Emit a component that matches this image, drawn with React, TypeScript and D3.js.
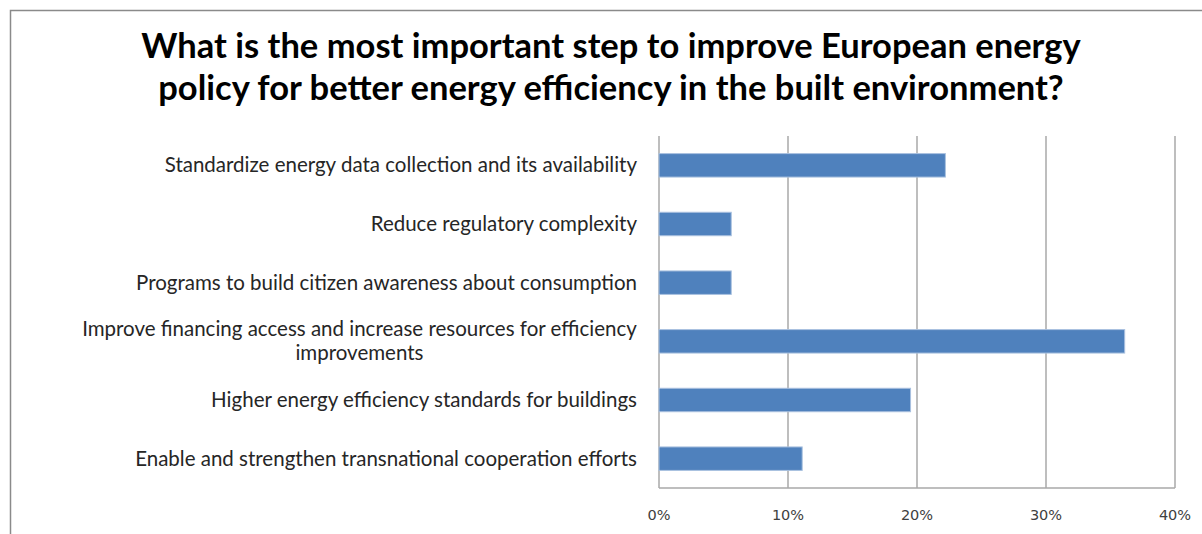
import React from "react";
import * as d3 from "d3";

const titleLines: string[] = [
  "What is the most important step to improve European energy",
  "policy for better energy efficiency in the built environment?",
];

const categories: string[][] = [
  ["Standardize energy data collection and its availability"],
  ["Reduce regulatory complexity"],
  ["Programs to build citizen awareness about consumption"],
  ["Improve financing access and increase resources for efficiency", "improvements"],
  ["Higher energy efficiency standards for buildings"],
  ["Enable and strengthen transnational cooperation efforts"],
];

const values: number[] = [0.222, 0.056, 0.056, 0.361, 0.195, 0.111];

const ticks: number[] = [0, 0.1, 0.2, 0.3, 0.4];

const W = 1202;
const H = 534;
const margin = { left: 659, right: 1175, top: 136, bottom: 488 };

let ctx: CanvasRenderingContext2D | null = null;
function measure(text: string, font: string): number {
  if (!ctx && typeof document !== "undefined") {
    ctx = document.createElement("canvas").getContext("2d");
  }
  if (!ctx) return text.length * 9;
  ctx.font = font;
  return ctx.measureText(text).width;
}

export default function App() {
  const keys = categories.map((c, i) => String(i));
  const x = d3.scaleLinear().domain([0, 0.4]).range([margin.left, margin.right]);
  const y = d3
    .scaleBand<string>()
    .domain(keys)
    .range([margin.top, margin.bottom])
    .paddingInner(0.6)
    .paddingOuter(0.3);
  const fmt = d3.format(".0%");
  const labelFont = "Lato, 'Open Sans', sans-serif";
  const labelSize = 20.5;
  const lineH = 24;
  const labelRight = 637;

  return (
    <svg
      width={W}
      height={H}
      style={{ position: "fixed", left: 0, top: 0, background: "#fff" }}
    >
      <rect x={0} y={0} width={W} height={H} fill="#fff" />
      <rect
        x={10.5}
        y={10.5}
        width={1400}
        height={800}
        fill="none"
        stroke="#8a8a8a"
        strokeWidth={1.5}
      />
      <g fontFamily={labelFont} fontWeight={700} fontSize={34.5} fill="#000" textAnchor="middle">
        {titleLines.map((t, i) => (
          <text key={i} x={611} y={58 + i * 42}>
            {t}
          </text>
        ))}
      </g>
      {/* gridlines */}
      <g stroke="#a9a9a9" strokeWidth={1.5}>
        {ticks.map((t) => (
          <line key={t} x1={x(t)} x2={x(t)} y1={margin.top} y2={margin.bottom} />
        ))}
        <line x1={margin.left} x2={margin.right} y1={margin.bottom} y2={margin.bottom} />
      </g>
      {/* bars */}
      <g>
        {values.map((v, i) => (
          <rect
            key={i}
            x={x(0)}
            y={y(String(i))}
            width={x(v) - x(0)}
            height={y.bandwidth()}
            fill="#4F81BD"
            stroke="#A9C1DF"
            strokeWidth={1}
          />
        ))}
      </g>
      {/* category labels */}
      <g fontFamily={labelFont} fontSize={labelSize} fill="#262626">
        {categories.map((lines, i) => {
          const cy = (y(String(i)) as number) + y.bandwidth() / 2;
          const n = lines.length;
          if (n === 1) {
            return (
              <text key={i} x={labelRight} y={cy + 7} textAnchor="end">
                {lines[0]}
              </text>
            );
          }
          const maxW = Math.max(
            ...lines.map((l) => measure(l, `${labelSize}px Lato, 'Open Sans', sans-serif`))
          );
          const cx = labelRight - maxW / 2;
          return (
            <text key={i} textAnchor="middle">
              {lines.map((l, j) => (
                <tspan key={j} x={cx} y={cy + 7 + (j - (n - 1) / 2) * lineH}>
                  {l}
                </tspan>
              ))}
            </text>
          );
        })}
      </g>
      {/* tick labels */}
      <g fontFamily="'DejaVu Sans', sans-serif" fontSize={14.5} fill="#404040" textAnchor="middle">
        {ticks.map((t) => (
          <text key={t} x={x(t)} y={520}>
            {fmt(t)}
          </text>
        ))}
      </g>
    </svg>
  );
}
